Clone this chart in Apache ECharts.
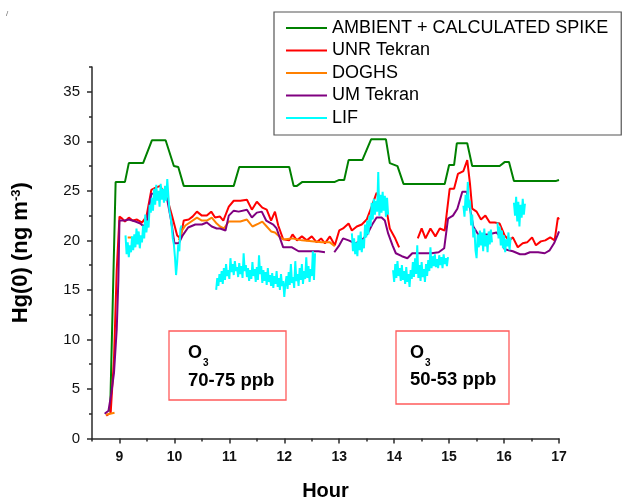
<!DOCTYPE html>
<html>
<head>
<meta charset="utf-8">
<script src="https://cdn.jsdelivr.net/npm/echarts@6/dist/echarts.min.js"></script>
<style>
  html, body { margin: 0; padding: 0; background: #fff; }
  #chart { width: 623px; height: 502px; }
</style>
</head>
<body>
<div id="chart"></div>
<script>
// Axis ticks
const hourTicks = [8.5, 9, 9.5, 10, 10.5, 11, 11.5, 12, 12.5, 13, 13.5, 14, 14.5, 15, 15.5, 16, 16.5, 17];
const hgTicks = [0, 2.5, 5, 7.5, 10, 12.5, 15, 17.5, 20, 22.5, 25, 27.5, 30, 32.5, 35, 37.5];

// AMBIENT + CALCULATED SPIKE
const ambientT = [8.83, 8.93, 9.10, 9.17, 9.43, 9.59, 9.84, 9.99, 10.07, 10.17, 11.08, 11.18, 12.09, 12.17, 12.23, 12.33, 12.92, 13.0, 13.09, 13.17, 13.42, 13.58, 13.85, 13.92, 14.06, 14.17, 14.92, 15.0, 15.09, 15.14, 15.33, 15.42, 15.92, 16.01, 16.09, 16.18, 16.95, 17.0];
const ambientV = [2.7, 25.9, 25.9, 27.8, 27.8, 30.1, 30.1, 27.5, 27.4, 25.5, 25.5, 27.4, 27.4, 25.5, 25.5, 25.9, 25.9, 26.1, 26.1, 28.1, 28.1, 30.2, 30.2, 27.8, 27.5, 25.7, 25.7, 27.6, 27.6, 29.8, 29.8, 27.5, 27.5, 27.9, 27.9, 26.0, 26.0, 26.1];

// UNR Tekran
const unrT = [8.76, 8.84, 8.90, 8.95, 9.0, 9.05, 9.10, 9.17, 9.24, 9.32, 9.41, 9.49, 9.58, 9.65, 9.74, 9.87, 9.96, 10.05, 10.11, 10.17, 10.26, 10.33, 10.41, 10.50, 10.59, 10.67, 10.74, 10.83, 10.89, 10.99, 11.08, 11.20, 11.32, 11.41, 11.50, 11.60, 11.68, 11.76, 11.83, 11.89, 11.98, 12.09, 12.15, 12.23, 12.32, 12.41, 12.50, 12.59, 12.67, 12.74, 12.83, 12.92, 13.0, 13.07, 13.17, 13.23, 13.32, 13.41, 13.50, 13.59, 13.68, 13.77, 13.85, 13.92, 14.01, 14.09, 14.26, 14.43, 14.50, 14.57, 14.66, 14.75, 14.83, 14.92, 15.01, 15.09, 15.16, 15.26, 15.33, 15.38, 15.42, 15.50, 15.58, 15.66, 15.74, 15.83, 15.92, 16.01, 16.09, 16.16, 16.25, 16.34, 16.42, 16.51, 16.58, 16.67, 16.75, 16.84, 16.92, 16.98, 17.0];
const unrV = [2.3, 2.6, 8, 17, 22.4, 22.2, 21.9, 22.3, 22.0, 22.1, 21.8, 22.4, 25.1, 25.3, 25.5, 24.2, 22.4, 20.5, 20.2, 22.0, 22.1, 22.4, 22.9, 22.5, 22.5, 22.9, 22.3, 22.4, 22.0, 23.4, 24.0, 24.0, 24.1, 23.1, 23.9, 23.3, 23.1, 22.0, 22.9, 21.5, 20.1, 20.0, 20.6, 20.0, 20.4, 20.0, 20.4, 19.8, 20.2, 19.7, 20.4, 19.5, 21.0, 21.2, 21.7, 21.0, 21.4, 21.6, 22.1, 23.4, 24.8, 24.2, 23.4, 21.2, 20.3, 19.3, null, 20.2, 21.2, 20.2, 21.2, 20.4, 21.2, 21.0, 25.2, 25.2, 26.7, 27.0, 28.1, 25.7, 23.2, 22.9, 22.1, 22.5, 21.8, 21.8, 21.7, 20.5, 20.0, 20.3, 19.3, 19.7, 19.8, 20.3, 19.5, 19.9, 20.0, 20.3, 20.0, 22.3, 22.1];

// DOGHS
const doghsT = [8.75, 8.91, 9.0, 9.15, 9.23, 9.5, 10.08, 10.14, 10.2, 10.41, 10.5, 10.59, 10.68, 10.77, 10.83, 10.9, 10.99, 11.08, 11.2, 11.32, 11.42, 11.53, 11.60, 11.68, 11.76, 11.83, 11.91, 11.98, 12.14, 12.32, 12.5, 12.68, 12.83, 12.92];
const doghsV = [2.4, 2.6, null, 20.3, 20.3, null, 20.0, 21.0, 21.5, 22.3, 22.0, 22.0, 22.3, 21.7, 21.4, 21.2, 21.9, 21.9, 21.9, 22.1, 21.4, 21.7, 21.9, 21.4, 20.9, 20.8, 20.4, 20.1, 20.2, 20.0, 19.9, 19.8, 19.8, 19.4];

// UM Tekran
const umT = [8.73, 8.80, 8.85, 8.90, 8.95, 8.98, 9.0, 9.10, 9.17, 9.29, 9.38, 9.44, 9.50, 9.58, 9.68, 9.78, 9.87, 9.94, 10.0, 10.08, 10.15, 10.25, 10.38, 10.50, 10.59, 10.68, 10.77, 10.83, 10.93, 10.99, 11.08, 11.17, 11.32, 11.41, 11.50, 11.59, 11.67, 11.80, 11.86, 11.98, 12.14, 12.26, 12.44, 12.62, 12.74, 12.82, 12.91, 13.0, 13.07, 13.17, 13.29, 13.41, 13.52, 13.60, 13.68, 13.77, 13.83, 13.89, 13.97, 14.03, 14.14, 14.24, 14.33, 14.44, 14.53, 14.68, 14.81, 14.91, 14.98, 15.07, 15.15, 15.24, 15.32, 15.38, 15.44, 15.53, 15.71, 15.86, 15.95, 16.01, 16.16, 16.29, 16.38, 16.47, 16.62, 16.74, 16.83, 16.91, 16.98, 17.0];
const umV = [2.5, 2.8, 4.5, 6.6, 11, 16, 22.0, 22.0, 22.1, 21.9, 21.7, 21.4, 22.0, 24.7, 24.7, 24.7, 24.1, 22.0, 19.7, 19.7, 20.5, 21.3, 21.6, 21.6, 21.8, 21.4, 21.2, 21.2, 21.0, 22.5, 23.0, 22.9, 23.1, 22.3, 22.8, 22.9, 22.0, 21.6, 21.2, 19.3, 19.3, 18.9, 18.9, 18.9, 18.8, null, 18.8, 19.5, 20.2, 20.0, 19.7, 20.0, 20.7, 21.6, 22.3, 22.3, 22.0, 20.7, 19.5, 18.7, 18.4, 18.2, 18.7, 18.7, 18.7, 18.7, 18.8, 19.2, 22.2, 22.5, 23.2, 24.9, 24.9, 23.2, 21.4, 20.6, 20.6, 20.8, 20.3, 19.1, 18.9, 18.6, 18.6, 18.8, 18.8, 18.7, 19.0, 19.7, 20.6, 20.9];

// LIF: sampled every 0.02 h, one array per measurement run
const lifStep = 0.02;
const lifStarts = [9.11, 10.76, 13.23, 13.98, 15.26, 15.88, 16.18];
const lif1 = [20.5, 18.6, 19.8, 18.3, 19.5, 18.8, 20.4, 19.0, 20.6, 19.3, 21.2, 19.6, 20.9, 19.2, 20.5, 19.8, 21.5, 20.2, 22.6, 20.8, 22.0, 21.3, 23.6, 22.8, 24.3, 23.0, 25.2, 23.6, 25.6, 24.0, 25.0, 23.4, 25.7, 24.1, 25.2, 23.8, 25.5, 24.0, 26.2, 24.5, 23.0, 22.4, 21.5, 20.2, 19.6, 18.3, 16.5, 17.8, 19.6, 18.9, 21.2, 21.5];
const lif2 = [15.0, 16.2, 15.4, 16.6, 15.8, 16.9, 15.6, 17.2, 16.0, 17.6, 16.4, 17.0, 16.1, 18.2, 16.8, 17.6, 16.5, 17.9, 16.9, 17.3, 16.3, 17.7, 16.6, 17.4, 16.2, 18.7, 16.9, 17.5, 16.3, 17.2, 15.9, 17.0, 16.1, 17.8, 16.4, 17.1, 15.8, 17.3, 16.0, 18.5, 16.6, 17.4, 15.7, 17.0, 15.9, 16.8, 15.5, 17.2, 15.8, 16.5, 15.4, 16.7, 15.2, 16.4, 15.6, 16.9, 15.3, 16.2, 15.0, 16.6, 15.4, 15.9, 14.3, 15.6, 16.4, 15.1, 16.8, 15.5, 17.6, 15.7, 16.3, 15.2, 17.9, 15.9, 16.6, 15.4, 17.2, 16.0, 17.6, 15.6, 16.9, 16.1, 18.3, 16.2, 17.4, 15.8, 17.1, 16.4, 18.9, 16.0, 18.7];
const lif3 = [20.7, 18.9, 20.2, 18.6, 19.8, 18.4, 20.5, 19.0, 20.9, 18.8, 20.1, 19.2, 21.6, 20.3, 22.0, 20.6, 22.5, 21.4, 23.8, 22.1, 24.2, 22.6, 24.0, 22.9, 26.9, 22.5, 24.6, 22.8, 24.9, 23.0, 24.5, 22.4, 24.3, 22.6];
const lif4 = [17.0, 15.8, 17.6, 16.2, 17.9, 16.4, 17.2, 15.9, 17.5, 16.0, 16.9, 15.6, 17.3, 15.8, 16.6, 15.3, 17.0, 16.1, 17.8, 16.3, 18.2, 16.6, 19.5, 16.2, 17.5, 15.9, 17.8, 16.3, 17.1, 15.8, 17.6, 16.4, 18.0, 16.9, 19.3, 17.2, 18.4, 17.4, 18.6, 17.3, 18.1, 17.2, 18.5, 17.5, 18.3, 17.2, 18.6, 17.6, 18.2, 17.4, 18.3];
const lif5 = [23.5, 22.4, 24.6, 23.0, 25.9, 23.3, 24.0, 21.5, 22.6, 20.3, 21.2, 19.0, 18.2, 20.6, 19.3, 21.0, 19.5, 20.8, 18.9, 21.2, 19.4, 20.5, 18.8, 20.9, 19.6, 21.1, 19.8];
const lif6 = [21.8, 20.2, 21.4, 19.5, 21.0, 19.2, 20.5, 18.8, 20.1, 19.4, 20.8, 19.0, 20.3];
const lif7 = [23.8, 22.5, 24.4, 21.9, 23.9, 21.4, 23.6, 22.3, 24.2, 22.6, 23.7];
const lifRuns = [lif1, lif2, lif3, lif4, lif5, lif6, lif7];

const FONT = '"Liberation Sans", Arial, Helvetica, sans-serif';

function pairs(t, v) {
  return t.map((x, i) => [x, v[i]]);
}

function lifData() {
  const out = [];
  lifRuns.forEach((run, k) => {
    const t0 = lifStarts[k];
    run.forEach((v, i) => out.push([+(t0 + i * lifStep).toFixed(3), v]));
    out.push([+(t0 + run.length * lifStep).toFixed(3), null]);
  });
  return out;
}

function lineSeries(name, color, data) {
  return {
    name: name,
    type: 'line',
    xAxisIndex: 0,
    yAxisIndex: 0,
    data: data,
    symbol: 'none',
    connectNulls: false,
    lineStyle: { color: color, width: 2 },
    itemStyle: { color: color },
    emphasis: { disabled: true }
  };
}

const chart = echarts.init(document.getElementById('chart'), null, { renderer: 'canvas' });

const axisColor = '#2a2a2a';

chart.setOption({
  animation: false,
  backgroundColor: '#fff',
  grid: { left: 92, right: 64, top: 67, bottom: 63.5, containLabel: false, outerBoundsMode: 'none' },
  legend: {
    orient: 'vertical',
    left: 274,
    top: 12,
    padding: [7, 13, 8, 12],
    icon: 'rect',
    itemWidth: 41,
    itemHeight: 2,
    itemGap: 4.5,
    borderColor: '#555',
    borderWidth: 1.2,
    selectedMode: false,
    textStyle: { fontFamily: FONT, fontSize: 18, color: '#000' },
    data: ['AMBIENT + CALCULATED SPIKE', 'UNR Tekran', 'DOGHS', 'UM Tekran', 'LIF']
  },
  xAxis: [
    {
      type: 'value',
      min: 8.5,
      max: 17,
      interval: 0.5,
      position: 'bottom',
      name: 'Hour',
      nameLocation: 'middle',
      nameGap: 43,
      nameTextStyle: { fontFamily: FONT, fontSize: 20, fontWeight: 'bold', color: '#000' },
      axisLine: { show: true, lineStyle: { color: axisColor, width: 1.5 } },
      axisTick: { show: true, length: 3, lineStyle: { color: axisColor, width: 1.5 } },
      axisLabel: { show: false },
      splitLine: { show: false }
    },
    {
      type: 'category',
      data: hourTicks.map(String),
      boundaryGap: false,
      position: 'bottom',
      axisLine: { show: false },
      axisTick: {
        show: true, length: 5,
        interval: (i) => Number.isInteger(hourTicks[i]),
        lineStyle: { color: axisColor, width: 1.5 }
      },
      axisLabel: {
        show: true, margin: 12,
        interval: (i) => Number.isInteger(hourTicks[i]),
        fontFamily: FONT, fontSize: 14, fontWeight: 'bold', color: '#111'
      },
      splitLine: { show: false }
    }
  ],
  yAxis: [
    {
      type: 'value',
      min: 0,
      max: 37.5,
      interval: 2.5,
      position: 'left',
      name: '{a|Hg(0) (ng m}{b|-3}{a|)}',
      nameLocation: 'middle',
      nameGap: 60,
      nameTextStyle: {
        color: '#000',
        rich: {
          a: { fontFamily: FONT, fontSize: 22, fontWeight: 'bold', color: '#000' },
          b: { fontFamily: FONT, fontSize: 13, fontWeight: 'bold', color: '#000', verticalAlign: 'top' }
        }
      },
      axisLine: { show: true, lineStyle: { color: axisColor, width: 1.5 } },
      axisTick: { show: true, length: 3, lineStyle: { color: axisColor, width: 1.5 } },
      axisLabel: { show: false },
      splitLine: { show: false }
    },
    {
      type: 'category',
      data: hgTicks.map(String),
      boundaryGap: false,
      position: 'left',
      axisLine: { show: false },
      axisTick: {
        show: true, length: 5,
        interval: (i) => hgTicks[i] % 5 === 0,
        lineStyle: { color: axisColor, width: 1.5 }
      },
      axisLabel: {
        show: true, margin: 12,
        interval: (i) => hgTicks[i] % 5 === 0,
        fontFamily: FONT, fontSize: 15, color: '#111'
      },
      splitLine: { show: false }
    }
  ],
  graphic: [
    { type: 'text', left: 6, top: 10, style: { text: '/', fontFamily: FONT, fontSize: 8, fill: '#666' } },
    // ozone level boxes
    { type: 'rect', shape: { x: 169, y: 331, width: 117, height: 69 }, style: { fill: 'none', stroke: '#ff5b5b', lineWidth: 1.3 } },
    { type: 'text', x: 188, y: 353, style: { text: 'O', fontFamily: FONT, fontSize: 18, fontWeight: 'bold', fill: '#000', verticalAlign: 'middle' } },
    { type: 'text', x: 203, y: 363, style: { text: '3', fontFamily: FONT, fontSize: 10, fontWeight: 'bold', fill: '#000', verticalAlign: 'middle' } },
    { type: 'text', x: 188, y: 381, style: { text: '70-75 ppb', fontFamily: FONT, fontSize: 18.5, fontWeight: 'bold', fill: '#000', verticalAlign: 'middle' } },
    { type: 'rect', shape: { x: 396, y: 331, width: 113, height: 73 }, style: { fill: 'none', stroke: '#ff5b5b', lineWidth: 1.3 } },
    { type: 'text', x: 410, y: 353, style: { text: 'O', fontFamily: FONT, fontSize: 18, fontWeight: 'bold', fill: '#000', verticalAlign: 'middle' } },
    { type: 'text', x: 425, y: 363, style: { text: '3', fontFamily: FONT, fontSize: 10, fontWeight: 'bold', fill: '#000', verticalAlign: 'middle' } },
    { type: 'text', x: 410, y: 380, style: { text: '50-53 ppb', fontFamily: FONT, fontSize: 18.5, fontWeight: 'bold', fill: '#000', verticalAlign: 'middle' } }
  ],
  series: [
    lineSeries('AMBIENT + CALCULATED SPIKE', '#008000', pairs(ambientT, ambientV)),
    lineSeries('UNR Tekran', '#ff0000', pairs(unrT, unrV)),
    lineSeries('DOGHS', '#ff8000', pairs(doghsT, doghsV)),
    lineSeries('UM Tekran', '#800080', pairs(umT, umV)),
    lineSeries('LIF', '#00ffff', lifData())
  ]
});
</script>
</body>
</html>
